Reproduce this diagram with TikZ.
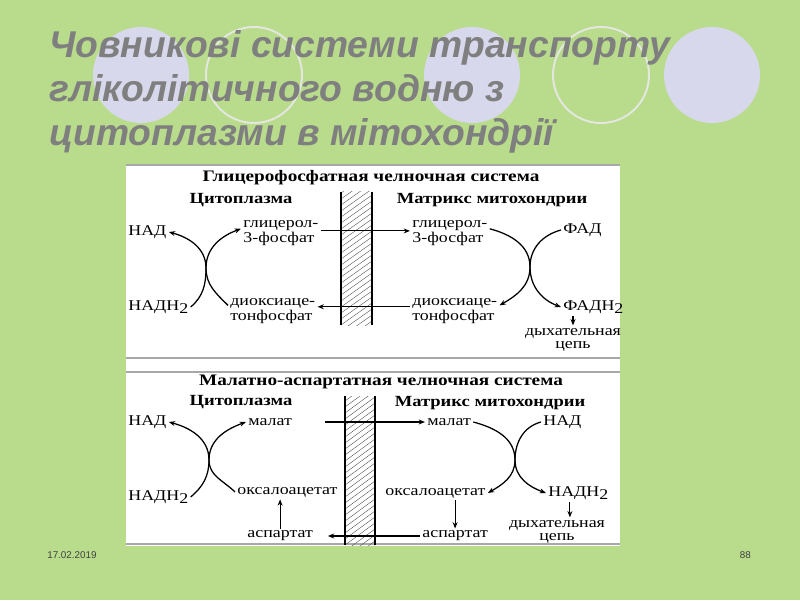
\documentclass[tikz,border=0pt]{standalone}
\usepackage{fontspec}
\setmainfont{Liberation Serif}
\newfontfamily\slidefont{Liberation Sans}
\newfontfamily\schemefont[FakeStretch=1.2]{Liberation Serif}
\usetikzlibrary{arrows.meta,positioning,calc}

\definecolor{slidegreen}{HTML}{B9DC8C}
\definecolor{lilac}{HTML}{D8D8EC}
\definecolor{ringgray}{HTML}{E4E6E0}
\definecolor{titlegray}{HTML}{7F7F7F}
\definecolor{panelgray}{HTML}{A8A8A8}
\newcommand{\lowidx}[1]{\raisebox{-2.5pt}{#1}}

\begin{document}
\begin{tikzpicture}[x=0.025cm, y=0.025cm,
    txt/.style={font=\schemefont\fontsize{10.6}{8.8}\selectfont, inner sep=1.5pt, anchor=west, align=left},
    chain/.style={font=\schemefont\fontsize{10.6}{10.6}\selectfont, inner sep=0pt, text height=6.8pt, text depth=2.2pt},
    hdr/.style={font=\schemefont\bfseries\fontsize{11}{12}\selectfont, inner sep=0pt},
    arr/.style={-{Stealth[length=4.5pt,width=3.5pt]}, line width=0.9pt},
    harr/.style={-{Stealth[length=4.5pt,width=3.5pt]}, line width=0.8pt},
    wall/.style={line width=1pt},
    hatch/.style={line width=0.3pt, black!65},
    rule/.style={panelgray, line width=1.5pt}
]
% slide
\fill[slidegreen] (0,0) rectangle (800,600);
\foreach \cx in {141,472,712} \fill[lilac] (\cx,525) circle (48);
\foreach \cx in {254,601} \draw[ringgray, line width=1.4pt] (\cx,525) circle (48);
\node[anchor=west, inner sep=0pt, align=left, text=titlegray,
      font=\slidefont\bfseries\itshape\fontsize{26.5}{31.3}\selectfont] (title) at (49,508)
      {Човникові системи транспорту\\гліколітичного водню з\\цитоплазми в мітохондрії};
\node[font=\slidefont\fontsize{7}{7}\selectfont, text=black!75, anchor=west, inner sep=0pt] (date) at (47,45) {17.02.2019};
\node[font=\slidefont\fontsize{7}{7}\selectfont, text=black!75, anchor=east, inner sep=0pt] (page) at (751,45) {88};

% panel
\fill[white] (126,54) rectangle (620,436);
\draw[rule] (126,435) -- (620,435);
\draw[rule] (126,242) -- (620,242);
\draw[rule] (126,228) -- (620,228);
\draw[rule] (126,56) -- (620,56);

% membranes
\begin{scope}
  \clip (341,275) rectangle (372,408);
  \foreach \k in {-24,-18,...,136} \draw[hatch] (341,275+\k) -- +(31,22);
\end{scope}
\draw[wall] (341,275) -- (341,408);
\draw[wall] (372,275) -- (372,408);
\begin{scope}
  \clip (345,55) rectangle (375,204);
  \foreach \k in {-24,-18,...,152} \draw[hatch] (345,55+\k) -- +(30,22);
\end{scope}
\draw[wall] (345,55) -- (345,204);
\draw[wall] (375,55) -- (375,204);

% glycerophosphate shuttle
\node[hdr, font=\schemefont\bfseries\fontsize{11.4}{12}\selectfont] (sys1) at (371,422) {Глицерофосфатная челночная система};
\node[hdr] (cyto1) at (241,400) {Цитоплазма};
\node[hdr] (matr1) at (492,400) {Матрикс митохондрии};
\node[txt] (nad1) at (126,368) {НАД};
\node[txt] (nadh1) at (126,293) {НАДН\lowidx{2}};
\node[txt] (g3pL) at (241,367) {глицерол-\\3-фосфат};
\node[txt] (dapL) at (228,289) {диоксиаце-\\тонфосфат};
\node[txt] (g3pR) at (410,367) {глицерол-\\3-фосфат};
\node[txt] (dapR) at (410,289) {диоксиаце-\\тонфосфат};
\node[txt] (fad1) at (561,370) {ФАД};
\node[txt] (fadh1) at (561,293) {ФАДН\lowidx{2}};
\node[chain] (resp1) at (573,268) {дыхательная};
\node[chain, below=0pt of resp1] (cell1) {цепь};
\coordinate (c1) at (206,332);
\coordinate (c2) at (530,333);

\draw[arr] (nadh1.east) to[out=40,in=-90] (c1) to[out=90,in=-15] (nad1.east);
\draw[arr] ([yshift=4pt]dapL.west) to[out=135,in=-90] (c1) to[out=90,in=200] ([yshift=3pt]g3pL.west);
\draw[arr] ([yshift=3pt]g3pR.east) to[out=-15,in=90] (c2) to[out=-90,in=30] ([yshift=4pt]dapR.east);
\draw[arr] (fad1.west) to[out=195,in=90] (c2) to[out=-90,in=160] (fadh1.west);
\draw[harr] ([yshift=1.5pt]g3pL.east) -- ([yshift=1.5pt]g3pR.west);
\draw[harr] ([yshift=3pt]dapR.west) -- ([yshift=3pt]dapL.east);
\draw[harr] (resp1.north |- fadh1.south) -- (resp1.north);

% malate-aspartate shuttle
\node[hdr, font=\schemefont\bfseries\fontsize{11.4}{12}\selectfont] (sys2) at (381,218) {Малатно-аспартатная челночная система};
\node[hdr] (cyto2) at (241,198) {Цитоплазма};
\node[hdr] (matr2) at (490,197) {Матрикс митохондрии};
\node[txt] (nad2) at (126,178) {НАД};
\node[txt] (malL) at (246,178) {малат};
\node[txt] (nadh2) at (126,103) {НАДН\lowidx{2}};
\node[txt] (oaaL) at (235,108) {оксалоацетат};
\node[txt] (aspL) at (245,64) {аспартат};
\node[txt] (malR) at (425,178) {малат};
\node[txt] (nad3) at (541,178) {НАД};
\node[txt] (oaaR) at (383,107) {оксалоацетат};
\node[txt] (nadh3) at (546,107) {НАДН\lowidx{2}};
\node[txt] (aspR) at (420,64) {аспартат};
\node[chain] (resp2) at (557,76) {дыхательная};
\node[chain, below=0pt of resp2] (cell2) {цепь};
\coordinate (c3) at (209,140);
\coordinate (c4) at (515,140);

\draw[arr] (nadh2.east) to[out=40,in=-90] (c3) to[out=90,in=-15] (nad2.east);
\draw[arr] (oaaL.west) to[out=135,in=-90] (c3) to[out=90,in=200] (malL.west);
\draw[arr] (malR.east) to[out=-15,in=90] (c4) to[out=-90,in=30] (oaaR.east);
\draw[arr] (nad3.west) to[out=195,in=90] (c4) to[out=-90,in=160] (nadh3.west);
\draw[harr, shorten <=22pt] (malL.east) -- (malR.west);
\draw[harr, shorten >=9pt] (aspR.west) -- (aspL.east);
\draw[harr] (aspL.north) -- (aspL.north |- oaaL.south);
\draw[harr] (aspR.north |- oaaR.south) -- (aspR.north);
\draw[harr] ([xshift=-6pt]nadh3.south) -- ([xshift=-6pt]nadh3.south |- resp2.north);
\end{tikzpicture}
\end{document}
